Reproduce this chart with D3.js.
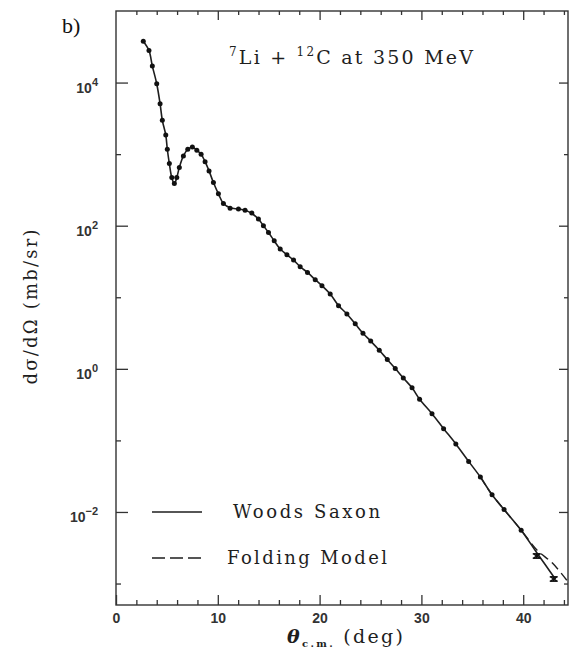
<!DOCTYPE html>
<html>
<head>
<meta charset="utf-8">
<script src="https://cdn.jsdelivr.net/npm/d3@7"></script>
<style>
  body { margin: 0; background: #fff; }
  svg { display: block; }
</style>
</head>
<body>
<div id="chart"></div>
<script>
// measured points (theta c.m. in deg, cross section in mb/sr)
const expTheta = [2.68, 3.24, 3.57, 4.00, 4.33, 4.55, 4.89, 5.04, 5.24, 5.48, 5.73, 5.97, 6.22, 6.62, 7.05,
  7.50, 7.94, 8.36, 8.75, 9.14, 9.57, 10.06, 10.55, 11.21, 12.03, 12.68, 13.34, 13.99, 14.48, 14.98,
  15.54, 16.13, 16.79, 17.44, 18.09, 18.81, 19.57, 20.23, 21.04, 21.86, 22.68, 23.50, 24.26, 25.02, 25.86,
  26.65, 27.43, 28.22, 29.08, 29.82, 31.04, 32.18, 33.38, 34.64, 35.79, 36.94, 38.12, 39.80, 41.33, 43.00];
const expSigma = [37900, 28100, 17000, 9620, 5060, 2970, 1850, 1170, 738, 470, 388, 470, 649, 944, 1170,
  1260, 1130, 998, 785, 583, 401, 279, 204, 176, 171, 165, 150, 124, 99.8, 80.4,
  61.5, 47.2, 39.3, 33.1, 26.7, 22.2, 17.6, 14.5, 11.1, 7.64, 5.85, 4.25, 3.14, 2.44, 1.82,
  1.35, 1.01, 0.745, 0.543, 0.376, 0.236, 0.146, 0.0893, 0.0509, 0.0308, 0.0174, 0.0108, 0.00556, 0.00243, 0.00116];
// error bars only visible on the last two points (relative error)
const errTheta = [41.33, 43.00];
const errSigma = [0.00243, 0.00116];
const errRel = [0.07, 0.07];

// Woods Saxon fit
const wsTheta = [2.68, 3.24, 3.57, 4.00, 4.33, 4.55, 4.89, 5.04, 5.24, 5.48, 5.73, 5.97, 6.22, 6.62, 7.05,
  7.50, 7.94, 8.36, 8.75, 9.14, 9.57, 10.06, 10.55, 11.21, 12.03, 12.68, 13.34, 13.99, 14.48, 14.98,
  15.54, 16.13, 16.79, 17.44, 18.09, 18.81, 19.57, 20.23, 21.04, 21.86, 22.68, 23.50, 24.26, 25.02, 25.86,
  26.65, 27.43, 28.22, 29.08, 29.82, 31.04, 32.18, 33.38, 34.64, 35.79, 36.94, 38.12, 39.80, 41.37, 43.17];
const wsSigma = [37900, 28100, 17000, 9620, 5060, 2970, 1850, 1170, 738, 470, 385, 470, 649, 944, 1170,
  1260, 1130, 998, 785, 583, 401, 279, 204, 178, 171, 164, 148, 124, 99.8, 80.4,
  61.5, 47.2, 39.3, 33.1, 26.7, 22.2, 17.6, 14.5, 11.1, 7.64, 5.85, 4.25, 3.14, 2.44, 1.82,
  1.35, 1.01, 0.745, 0.543, 0.376, 0.236, 0.146, 0.0893, 0.0509, 0.0308, 0.0174, 0.0108, 0.00556, 0.00265, 0.00115];

// Folding model: same as WS up to ~40 deg, then flatter tail
const fmTheta = [35.79, 36.94, 38.12, 39.80, 41.37, 42.87, 44.35];
const fmSigma = [0.0308, 0.0174, 0.0108, 0.00556, 0.00292, 0.00193, 0.00108];

const xMajor = [0, 10, 20, 30, 40];
const xMinor = [2, 4, 6, 8, 12, 14, 16, 18, 22, 24, 26, 28, 32, 34, 36, 38, 42, 44];
const yMajorExp = [4, 2, 0, -2];
const yMinorExp = [3, 1, -1, -3];

const W = 573, H = 653;
const mLeft = 116, mRight = 568, mTop = 11, mBottom = 605;
const ink = "#1e1e1e";

const svg = d3.select("#chart").append("svg")
  .attr("width", W).attr("height", H);

const x = d3.scaleLinear().domain([0, 44.4]).range([mLeft, mRight]);
const y = d3.scaleLog().domain([Math.pow(10, -3.3), 1e5]).range([mBottom, mTop]);

// frame
svg.append("rect")
  .attr("x", mLeft).attr("y", mTop)
  .attr("width", mRight - mLeft).attr("height", mBottom - mTop)
  .attr("fill", "none").attr("stroke", "#333").attr("stroke-width", 1.4);

function styleAxis(g) {
  g.select(".domain").remove();
  g.selectAll(".tick line").attr("stroke", "#333").attr("stroke-width", 1.3);
}

const sans = "Liberation Sans, Arial, sans-serif";

// x axes (ticks point inward)
svg.append("g")
  .attr("transform", `translate(0,${mBottom})`)
  .call(d3.axisBottom(x).tickValues(xMajor).tickSize(-10).tickPadding(8).tickFormat(d3.format("d")))
  .call(styleAxis)
  .call(g => g.selectAll("text")
    .attr("font-family", sans)
    .attr("font-size", 14).attr("font-weight", "bold").attr("fill", "#333"));
svg.append("g")
  .attr("transform", `translate(0,${mBottom})`)
  .call(d3.axisBottom(x).tickValues(xMinor).tickSize(-5).tickFormat(""))
  .call(styleAxis);
svg.append("g")
  .attr("transform", `translate(0,${mTop})`)
  .call(d3.axisTop(x).tickValues(xMajor.filter(d => d > 0)).tickSize(-9).tickFormat(""))
  .call(styleAxis);
svg.append("g")
  .attr("transform", `translate(0,${mTop})`)
  .call(d3.axisTop(x).tickValues(xMinor).tickSize(-4).tickFormat(""))
  .call(styleAxis);

// y axes
const yMajor = yMajorExp.map(e => Math.pow(10, e));
const yMinor = yMinorExp.map(e => Math.pow(10, e));

const yLeft = svg.append("g")
  .attr("transform", `translate(${mLeft},0)`)
  .call(d3.axisLeft(y).tickValues(yMajor).tickSize(-12).tickPadding(18).tickFormat(""))
  .call(styleAxis);
yLeft.selectAll(".tick text")
  .attr("font-family", sans)
  .attr("font-weight", "bold").attr("fill", "#333")
  .attr("font-size", 14).attr("dy", 10)
  .each(function(d) {
    const t = d3.select(this);
    t.append("tspan").text("10");
    t.append("tspan").attr("font-size", 11).attr("dy", -7)
      .text(String(Math.round(Math.log10(d))).replace("-", "\u2212"));
  });
svg.append("g")
  .attr("transform", `translate(${mLeft},0)`)
  .call(d3.axisLeft(y).tickValues(yMinor).tickSize(-5).tickFormat(""))
  .call(styleAxis);
svg.append("g")
  .attr("transform", `translate(${mRight},0)`)
  .call(d3.axisRight(y).tickValues(yMajor).tickSize(-9).tickFormat(""))
  .call(styleAxis);
svg.append("g")
  .attr("transform", `translate(${mRight},0)`)
  .call(d3.axisRight(y).tickValues(yMinor).tickSize(-4).tickFormat(""))
  .call(styleAxis);

// curves
const line = d3.line()
  .x(d => x(d[0])).y(d => y(d[1]))
  .curve(d3.curveCatmullRom.alpha(0.5));

svg.append("path")
  .datum(fmTheta.map((t, i) => [t, fmSigma[i]]))
  .attr("d", line)
  .attr("fill", "none").attr("stroke", ink).attr("stroke-width", 1.4)
  .attr("stroke-dasharray", "9,5");

svg.append("path")
  .datum(wsTheta.map((t, i) => [t, wsSigma[i]]))
  .attr("d", line)
  .attr("fill", "none").attr("stroke", ink).attr("stroke-width", 1.6);

// data points
const pts = expTheta.map((t, i) => [t, expSigma[i]]);
svg.append("g").selectAll("circle")
  .data(pts.filter(d => d[0] < 41))
  .join("circle")
  .attr("cx", d => x(d[0])).attr("cy", d => y(d[1]))
  .attr("r", 2.5).attr("fill", "#111");

// last points drawn with error bars
const errs = svg.append("g").attr("stroke", "#111").attr("stroke-width", 1.5);
errTheta.forEach((t, i) => {
  const cx = x(t);
  const y0 = y(errSigma[i] * (1 + errRel[i]));
  const y1 = y(errSigma[i] * (1 - errRel[i]));
  errs.append("line").attr("x1", cx).attr("x2", cx).attr("y1", y0).attr("y2", y1);
  errs.append("line").attr("x1", cx - 4).attr("x2", cx + 4).attr("y1", y0).attr("y2", y0);
  errs.append("line").attr("x1", cx - 4).attr("x2", cx + 4).attr("y1", y1).attr("y2", y1);
  errs.append("line").attr("x1", cx - 3).attr("x2", cx + 3).attr("y1", y0).attr("y2", y1);
  errs.append("line").attr("x1", cx + 3).attr("x2", cx - 3).attr("y1", y0).attr("y2", y1);
});

// title
const serif = "DejaVu Serif, Liberation Serif, serif";
const title = svg.append("text")
  .attr("x", 229).attr("y", 64)
  .attr("font-family", serif).attr("font-size", 19).attr("fill", ink)
  .attr("textLength", 244).attr("lengthAdjust", "spacing");
title.append("tspan").attr("font-size", 12).attr("dy", -8).text("7");
title.append("tspan").attr("dy", 8).text("Li + ");
title.append("tspan").attr("font-size", 12).attr("dy", -8).text("12");
title.append("tspan").attr("dy", 8).text("C at 350 MeV");

// legend
const legend = [
  { label: "Woods Saxon", dash: null, y: 512, tx: 233, tw: 147 },
  { label: "Folding Model", dash: "13,5", y: 558, tx: 227, tw: 160 }
];
legend.forEach(l => {
  svg.append("line")
    .attr("x1", 152).attr("x2", 202).attr("y1", l.y).attr("y2", l.y)
    .attr("stroke", ink).attr("stroke-width", 1.3)
    .attr("stroke-dasharray", l.dash);
  svg.append("text")
    .attr("x", l.tx).attr("y", l.y + 6)
    .attr("font-family", serif).attr("font-size", 18).attr("fill", ink)
    .attr("textLength", l.tw).attr("lengthAdjust", "spacing")
    .text(l.label);
});

// axis titles
const xt = svg.append("text")
  .attr("x", 287).attr("y", 643)
  .attr("font-family", serif).attr("font-size", 19).attr("fill", ink)
  .attr("textLength", 116).attr("lengthAdjust", "spacing");
xt.append("tspan").attr("font-style", "italic").attr("font-weight", "bold").text("\u03b8");
xt.append("tspan").attr("font-size", 10).attr("font-weight", "bold").attr("dy", 4).text("c.m.");
xt.append("tspan").attr("dy", -4).text(" (deg)");

svg.append("text")
  .attr("transform", "translate(37,307) rotate(-90)")
  .attr("text-anchor", "middle")
  .attr("font-family", serif).attr("font-size", 18).attr("fill", ink)
  .attr("textLength", 155).attr("lengthAdjust", "spacing")
  .text("d\u03c3/d\u03a9 (mb/sr)");

// panel label
svg.append("text")
  .attr("x", 62).attr("y", 33)
  .attr("font-family", "Liberation Serif, DejaVu Serif, serif")
  .attr("font-size", 22).attr("fill", "#111")
  .text("b)");
</script>
</body>
</html>
